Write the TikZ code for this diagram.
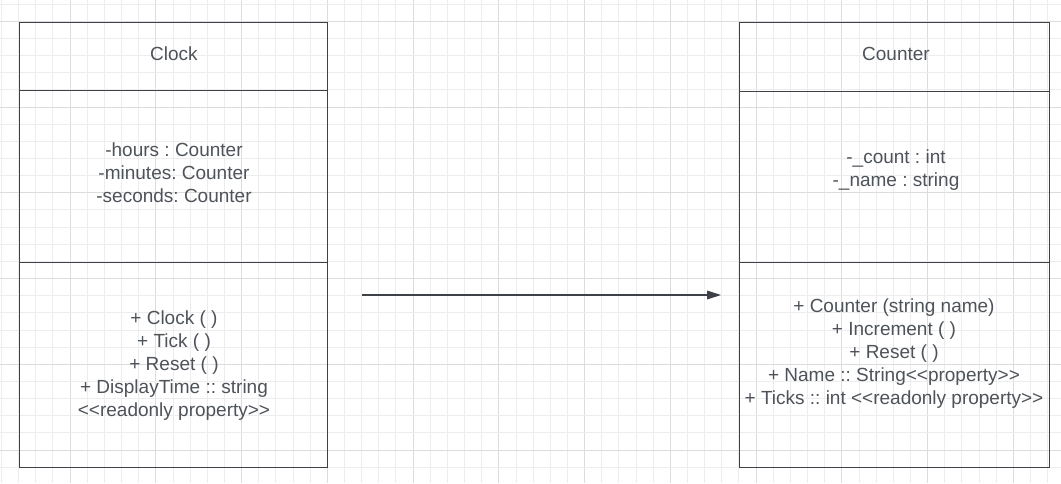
\documentclass[tikz,border=0pt]{standalone}
\usepackage{fontspec}
\setmainfont{Liberation Sans}
\usetikzlibrary{arrows.meta}
\definecolor{txt}{RGB}{78,83,90}
\definecolor{edge}{RGB}{62,66,72}
\definecolor{gminor}{RGB}{237,237,237}
\definecolor{gmajor}{RGB}{220,220,220}
\frenchspacing
\newcommand{\lt}{<{}<}
\newcommand{\gt}{>{}>}
\begin{document}
\begin{tikzpicture}[x=0.75pt,y=-0.75pt,
  part/.style={draw=edge,line width=0.8pt,minimum width=#1*0.75pt,inner sep=0pt,anchor=north west},
  label/.style={text=txt,font=\fontsize{14.25}{17.25}\selectfont,align=center,inner sep=0pt},
  conn/.style={draw=edge,line width=0.8pt,-{Triangle[length=10.5pt,width=6.5pt]}}]
\useasboundingbox[fill=white] (0,0) rectangle (1061,483);
% grid
\foreach \i in {0,...,61} {
  \pgfmathsetmacro{\gx}{1.5+17.15*\i}
  \pgfmathtruncatemacro{\m}{mod(\i,5)}
  \ifnum\m=4 \draw[gmajor,line width=0.75pt] (\gx,0) -- (\gx,483);
  \else \draw[gminor,line width=0.75pt] (\gx,0) -- (\gx,483); \fi
}
\foreach \j in {0,...,28} {
  \pgfmathsetmacro{\gy}{4.15+17.15*\j}
  \pgfmathtruncatemacro{\m}{mod(\j,5)}
  \ifnum\m=1 \draw[gmajor,line width=0.75pt] (0,\gy) -- (1061,\gy);
  \else \draw[gminor,line width=0.75pt] (0,\gy) -- (1061,\gy); \fi
}
% Clock class
\node[part=308,minimum height=68*0.75pt] (clockT) at (19,22) {};
\node[part=308,minimum height=172*0.75pt] (clockA) at (19,90) {};
\node[part=308,minimum height=205*0.75pt] (clockM) at (19,262) {};
\node[label] (clockTt) at (174,54) {Clock};
\node[label] (clockAt) at (174,173) {-hours : Counter\\-minutes: Counter\\-seconds: Counter};
\node[label] (clockMt) at (174,365.5) {+ Clock ( )\\+ Tick ( )\\+ Reset ( )\\+ DisplayTime :: string\\\lt readonly property\gt};
% Counter class
\node[part=310,minimum height=69*0.75pt] (cntT) at (739,22) {};
\node[part=310,minimum height=171*0.75pt] (cntA) at (739,91) {};
\node[part=310,minimum height=205*0.75pt] (cntM) at (739,262) {};
\node[label] (cntTt) at (896,54) {Counter};
\node[label] (cntAt) at (896,170) {-\_count : int\\-\_name : string};
\node[label] (cntMt) at (894,353.5) {+ Counter (string name)\\+ Increment ( )\\+ Reset ( )\\+ Name :: String\lt property\gt\\+ Ticks :: int \lt readonly property\gt};
% association arrow
\coordinate (arrS) at (362,295);
\coordinate (arrE) at (721,295);
\draw[conn] (arrS) -- (arrE);
\end{tikzpicture}
\end{document}
